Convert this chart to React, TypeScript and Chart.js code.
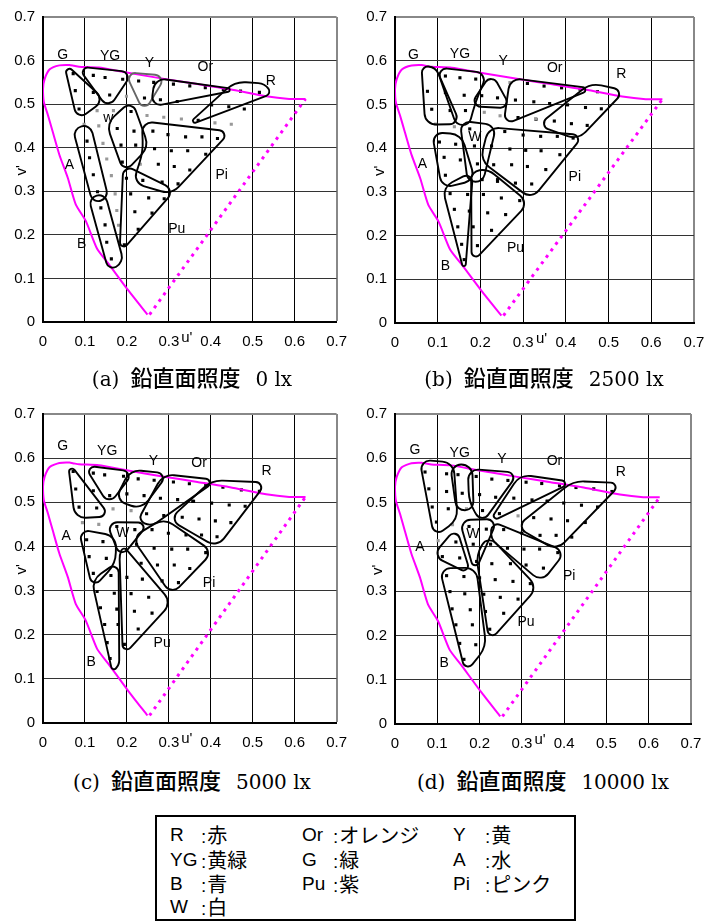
import React, { useEffect, useRef } from 'react';
import { Chart, registerables } from 'chart.js';
Chart.register(...registerables);

type P = [number, number];
type L = [string, number, number];

// ---- spectrum locus (u', v') ----
const LOCUS_U = [0.249, 0.203, 0.156, 0.129, 0.102, 0.078, 0.059, 0.039, 0.023, 0.012, 0.002, 0.0, 0.004, 0.016, 0.039, 0.063, 0.074, 0.086, 0.133, 0.196, 0.289, 0.368, 0.446, 0.532, 0.587, 0.626];
const LOCUS_V = [0.017, 0.073, 0.134, 0.168, 0.232, 0.270, 0.331, 0.384, 0.437, 0.474, 0.505, 0.535, 0.558, 0.580, 0.589, 0.590, 0.588, 0.586, 0.584, 0.573, 0.558, 0.546, 0.534, 0.518, 0.512, 0.512];
const PURPLE_U = [0.254, 0.626];
const PURPLE_V = [0.017, 0.512];

const TICKS = [0, 0.1, 0.2, 0.3, 0.4, 0.5, 0.6, 0.7];

// ---- panel (a) 0 lx ----
const A_OUTLINES: P[][] = [
  [[0.054, 0.588], [0.138, 0.512], [0.083, 0.472]],
  [[0.09, 0.582], [0.205, 0.57], [0.155, 0.498]],
  [[0.203, 0.568], [0.285, 0.561], [0.241, 0.49]],
  [[0.275, 0.556], [0.458, 0.533], [0.266, 0.498]],
  [[0.348, 0.453], [0.46, 0.543], [0.52, 0.543], [0.537, 0.523]],
  [[0.211, 0.5], [0.244, 0.406], [0.194, 0.351], [0.159, 0.451]],
  [[0.241, 0.453], [0.438, 0.434], [0.305, 0.302], [0.222, 0.325], [0.248, 0.39]],
  [[0.195, 0.353], [0.306, 0.3], [0.186, 0.166]],
  [[0.075, 0.436], [0.113, 0.445], [0.152, 0.292], [0.118, 0.282]],
  [[0.113, 0.277], [0.148, 0.286], [0.188, 0.145], [0.156, 0.126]],
];
const A_GRAY_OUTLINE = [2];
const A_DOTS: P[] = [
  [0.072, 0.570], [0.077, 0.531], [0.12, 0.527], [0.086, 0.489],
  [0.12, 0.566], [0.148, 0.561], [0.19, 0.557], [0.159, 0.521],
  [0.228, 0.553], [0.264, 0.55], [0.242, 0.514],
  [0.311, 0.546], [0.35, 0.542], [0.387, 0.538], [0.43, 0.533], [0.28, 0.51], [0.32, 0.506],
  [0.471, 0.53], [0.516, 0.527], [0.402, 0.498], [0.443, 0.494], [0.48, 0.489], [0.37, 0.463],
  [0.21, 0.483], [0.177, 0.444], [0.217, 0.438], [0.186, 0.406], [0.221, 0.406], [0.189, 0.367],
  [0.262, 0.438], [0.298, 0.430], [0.340, 0.425], [0.379, 0.425], [0.416, 0.421],
  [0.266, 0.398], [0.306, 0.393], [0.345, 0.393], [0.388, 0.385],
  [0.275, 0.362], [0.313, 0.357], [0.35, 0.349],
  [0.238, 0.325], [0.284, 0.321], [0.322, 0.317],
  [0.199, 0.330], [0.209, 0.294], [0.252, 0.285], [0.289, 0.283], [0.219, 0.253], [0.26, 0.25], [0.227, 0.213], [0.194, 0.177],
  [0.105, 0.415], [0.111, 0.377], [0.12, 0.338], [0.13, 0.299],
  [0.138, 0.262], [0.148, 0.223], [0.152, 0.183], [0.163, 0.145],
];
const A_GRAY: P[] = [
  [0.199, 0.518], [0.129, 0.485], [0.168, 0.485], [0.248, 0.474], [0.288, 0.47], [0.33, 0.466],
  [0.41, 0.457], [0.449, 0.454], [0.098, 0.454], [0.133, 0.45], [0.143, 0.41], [0.152, 0.374],
  [0.163, 0.336], [0.232, 0.362], [0.172, 0.294], [0.176, 0.256], [0.18, 0.222],
];
const A_LABELS: L[] = [
  ['G', 0.047, 0.612], ['YG', 0.16, 0.61], ['Y', 0.254, 0.595], ['Or', 0.387, 0.585], ['R', 0.543, 0.553],
  ['w', 0.156, 0.469], ['A', 0.063, 0.361], ['Pi', 0.426, 0.338], ['Pu', 0.319, 0.212], ['B', 0.092, 0.178],
];

// ---- panel (b) 2500 lx ----
const B_OUTLINES: P[][] = [
  [[0.066, 0.58], [0.095, 0.576], [0.147, 0.462], [0.074, 0.462]],
  [[0.103, 0.578], [0.21, 0.565], [0.18, 0.51], [0.172, 0.462], [0.146, 0.462]],
  [[0.226, 0.563], [0.264, 0.496], [0.183, 0.5]],
  [[0.277, 0.555], [0.456, 0.535], [0.261, 0.459]],
  [[0.343, 0.455], [0.455, 0.54], [0.53, 0.528], [0.43, 0.428]],
  [[0.156, 0.455], [0.232, 0.445], [0.204, 0.332], [0.173, 0.332]],
  [[0.226, 0.442], [0.433, 0.427], [0.318, 0.292], [0.209, 0.373]],
  [[0.092, 0.429], [0.152, 0.423], [0.181, 0.333], [0.113, 0.317]],
  [[0.116, 0.303], [0.18, 0.338], [0.163, 0.118]],
  [[0.183, 0.339], [0.218, 0.343], [0.304, 0.275], [0.182, 0.146]],
];
const B_DOTS: P[] = [
  [0.118, 0.565], [0.152, 0.561], [0.189, 0.558], [0.076, 0.53], [0.118, 0.527], [0.162, 0.521],
  [0.086, 0.489], [0.129, 0.486], [0.165, 0.486],
  [0.203, 0.52], [0.24, 0.515],
  [0.31, 0.548], [0.349, 0.542], [0.39, 0.538], [0.433, 0.535], [0.282, 0.51], [0.325, 0.506], [0.362, 0.502], [0.288, 0.47], [0.33, 0.466],
  [0.474, 0.529], [0.404, 0.499], [0.446, 0.493], [0.483, 0.49], [0.373, 0.462], [0.413, 0.456], [0.45, 0.452],
  [0.175, 0.444], [0.186, 0.405], [0.193, 0.364],
  [0.257, 0.438], [0.3, 0.43], [0.341, 0.427], [0.38, 0.427], [0.417, 0.423],
  [0.226, 0.405], [0.269, 0.398], [0.306, 0.395], [0.342, 0.394], [0.386, 0.385],
  [0.231, 0.362], [0.273, 0.362], [0.31, 0.358], [0.353, 0.351],
  [0.24, 0.328], [0.282, 0.32], [0.32, 0.318],
  [0.104, 0.414], [0.142, 0.409], [0.115, 0.379], [0.153, 0.373], [0.118, 0.338],
  [0.129, 0.296], [0.17, 0.294], [0.139, 0.26], [0.174, 0.256], [0.147, 0.22], [0.183, 0.22], [0.156, 0.18], [0.162, 0.145],
  [0.204, 0.328], [0.24, 0.324], [0.207, 0.294], [0.249, 0.286], [0.292, 0.28], [0.217, 0.252], [0.259, 0.248], [0.226, 0.212], [0.193, 0.177],
];
const B_GRAY: P[] = [[0.269, 0.55], [0.209, 0.482], [0.246, 0.474], [0.329, 0.467], [0.095, 0.455], [0.139, 0.449]];
const B_LABELS: L[] = [
  ['G', 0.043, 0.612], ['YG', 0.152, 0.614], ['Y', 0.253, 0.598], ['Or', 0.374, 0.584], ['R', 0.53, 0.57],
  ['W', 0.187, 0.426], ['A', 0.064, 0.364], ['Pi', 0.421, 0.334], ['Pu', 0.282, 0.171], ['B', 0.118, 0.129],
];

// ---- panel (c) 5000 lx ----
const C_OUTLINES: P[][] = [
  [[0.063, 0.585], [0.153, 0.473], [0.08, 0.472]],
  [[0.106, 0.579], [0.208, 0.566], [0.157, 0.503]],
  [[0.212, 0.566], [0.29, 0.561], [0.234, 0.493], [0.18, 0.509]],
  [[0.288, 0.555], [0.406, 0.547], [0.263, 0.453], [0.234, 0.464]],
  [[0.31, 0.463], [0.404, 0.541], [0.525, 0.541], [0.415, 0.407]],
  [[0.159, 0.45], [0.245, 0.45], [0.187, 0.382]],
  [[0.221, 0.417], [0.29, 0.455], [0.396, 0.388], [0.306, 0.299]],
  [[0.091, 0.432], [0.168, 0.417], [0.165, 0.366], [0.12, 0.313]],
  [[0.179, 0.357], [0.12, 0.316], [0.165, 0.125], [0.18, 0.14]],
  [[0.194, 0.392], [0.298, 0.275], [0.192, 0.161], [0.186, 0.373]],
];
const C_DOTS: P[] = [
  [0.072, 0.57], [0.078, 0.53], [0.12, 0.526], [0.086, 0.489], [0.128, 0.487],
  [0.12, 0.566], [0.147, 0.562], [0.192, 0.559], [0.159, 0.515],
  [0.227, 0.553], [0.265, 0.55], [0.2, 0.519], [0.241, 0.515],
  [0.311, 0.546], [0.349, 0.542], [0.388, 0.538], [0.28, 0.509], [0.321, 0.506], [0.357, 0.502], [0.247, 0.474], [0.288, 0.47],
  [0.429, 0.534], [0.473, 0.528], [0.516, 0.525], [0.359, 0.502], [0.402, 0.498], [0.444, 0.494], [0.482, 0.491],
  [0.332, 0.466], [0.372, 0.462], [0.411, 0.458], [0.448, 0.454], [0.378, 0.426], [0.415, 0.422],
  [0.176, 0.445], [0.219, 0.438],
  [0.26, 0.438], [0.299, 0.43], [0.341, 0.426], [0.223, 0.405], [0.265, 0.396], [0.307, 0.394], [0.345, 0.394], [0.388, 0.386],
  [0.234, 0.362], [0.273, 0.358], [0.313, 0.358], [0.35, 0.35], [0.284, 0.322], [0.323, 0.318],
  [0.104, 0.415], [0.143, 0.411], [0.11, 0.377], [0.151, 0.373], [0.12, 0.339],
  [0.162, 0.334], [0.129, 0.298], [0.17, 0.294], [0.137, 0.261], [0.176, 0.258], [0.147, 0.223], [0.179, 0.223], [0.153, 0.182], [0.16, 0.146],
  [0.2, 0.33], [0.237, 0.326], [0.21, 0.293], [0.252, 0.285], [0.218, 0.253], [0.26, 0.249], [0.227, 0.213], [0.194, 0.178],
];
const C_GRAY: P[] = [[0.167, 0.485], [0.21, 0.481], [0.094, 0.454], [0.133, 0.45]];
const C_LABELS: L[] = [
  ['G', 0.047, 0.627], ['YG', 0.153, 0.615], ['Y', 0.263, 0.593], ['Or', 0.372, 0.589], ['R', 0.533, 0.57],
  ['W', 0.19, 0.43], ['A', 0.055, 0.424], ['Pi', 0.396, 0.316], ['Pu', 0.284, 0.182], ['B', 0.115, 0.139],
];

// ---- panel (d) 10000 lx ----
const D_OUTLINES: P[][] = [
  [[0.063, 0.589], [0.135, 0.582], [0.143, 0.469], [0.094, 0.431]],
  [[0.135, 0.578], [0.179, 0.578], [0.182, 0.491], [0.148, 0.491]],
  [[0.178, 0.569], [0.284, 0.563], [0.206, 0.461], [0.183, 0.506]],
  [[0.299, 0.555], [0.412, 0.544], [0.228, 0.459]],
  [[0.295, 0.448], [0.42, 0.54], [0.528, 0.54], [0.385, 0.401]],
  [[0.159, 0.454], [0.236, 0.457], [0.189, 0.35]],
  [[0.237, 0.451], [0.394, 0.39], [0.342, 0.328], [0.234, 0.416]],
  [[0.144, 0.435], [0.098, 0.381], [0.174, 0.344]],
  [[0.11, 0.344], [0.19, 0.344], [0.211, 0.182], [0.167, 0.124]],
  [[0.222, 0.418], [0.328, 0.31], [0.224, 0.195], [0.198, 0.375]],
];
const D_DOTS: P[] = [
  [0.071, 0.569], [0.122, 0.565], [0.08, 0.531], [0.122, 0.525], [0.088, 0.49], [0.126, 0.486], [0.098, 0.456],
  [0.149, 0.563], [0.159, 0.521],
  [0.192, 0.559], [0.229, 0.553], [0.267, 0.55], [0.2, 0.518], [0.238, 0.512], [0.207, 0.482], [0.247, 0.475],
  [0.31, 0.546], [0.347, 0.543], [0.389, 0.538], [0.281, 0.51], [0.324, 0.506], [0.36, 0.503],
  [0.428, 0.534], [0.47, 0.531], [0.513, 0.525], [0.36, 0.503], [0.399, 0.499], [0.441, 0.494], [0.479, 0.49],
  [0.328, 0.466], [0.369, 0.463], [0.408, 0.459], [0.45, 0.455], [0.343, 0.426], [0.381, 0.426], [0.418, 0.422],
  [0.175, 0.446], [0.216, 0.44], [0.185, 0.406], [0.193, 0.367],
  [0.257, 0.439], [0.3, 0.431], [0.266, 0.397], [0.305, 0.395], [0.342, 0.395], [0.385, 0.387], [0.31, 0.359], [0.351, 0.352],
  [0.144, 0.411], [0.112, 0.378], [0.153, 0.375],
  [0.122, 0.335], [0.163, 0.333], [0.13, 0.299], [0.165, 0.294], [0.135, 0.26], [0.178, 0.258], [0.144, 0.224], [0.183, 0.224], [0.153, 0.182], [0.191, 0.179], [0.163, 0.146],
  [0.226, 0.406], [0.229, 0.362], [0.273, 0.362], [0.2, 0.33], [0.237, 0.326], [0.279, 0.322], [0.32, 0.317],
  [0.21, 0.293], [0.249, 0.286], [0.291, 0.282], [0.214, 0.254], [0.257, 0.25], [0.224, 0.214],
];
const D_GRAY: P[] = [[0.169, 0.486], [0.136, 0.45], [0.102, 0.414], [0.291, 0.47]];
const D_LABELS: L[] = [
  ['G', 0.047, 0.618], ['YG', 0.153, 0.611], ['Y', 0.253, 0.599], ['Or', 0.377, 0.593], ['R', 0.534, 0.569],
  ['W', 0.184, 0.429], ['A', 0.059, 0.399], ['Pi', 0.412, 0.335], ['Pu', 0.31, 0.23], ['B', 0.116, 0.137],
];

// ---- captions & legend ----
const CAPTION_TAGS = ['(a)', '(b)', '(c)', '(d)'];
const CAPTION_MAIN = '鉛直面照度';
const CAPTION_LUX = ['0 lx', '2500 lx', '5000 lx', '10000 lx'];
const LEGEND_CODES = ['R', 'Or', 'Y', 'YG', 'G', 'A', 'B', 'Pu', 'Pi', 'W'];
const LEGEND_NAMES = ['赤', 'オレンジ', '黄', '黄緑', '緑', '水', '青', '紫', 'ピンク', '白'];

// ---- layout (styles) ----
const PANELS = [
  { x: 0, y: 0, w: 358, h: 352, left: 43, right: 16, top: 14, bottom: 30, vOff: 21, outlines: A_OUTLINES, gray: A_GRAY_OUTLINE, dots: A_DOTS, grayDots: A_GRAY, labels: A_LABELS },
  { x: 358, y: 0, w: 359, h: 352, left: 37, right: 23, top: 14, bottom: 29, vOff: 15, outlines: B_OUTLINES, gray: [], dots: B_DOTS, grayDots: B_GRAY, labels: B_LABELS },
  { x: 0, y: 385, w: 358, h: 367, left: 43, right: 17, top: 29, bottom: 29, vOff: 21, outlines: C_OUTLINES, gray: [], dots: C_DOTS, grayDots: C_GRAY, labels: C_LABELS },
  { x: 358, y: 385, w: 359, h: 367, left: 37, right: 26, top: 29, bottom: 28, vOff: 17, outlines: D_OUTLINES, gray: [], dots: D_DOTS, grayDots: D_GRAY, labels: D_LABELS },
];
const CAPTION_POS = [[192, 376], [544, 376], [192, 779], [543, 779]];
const SANS = '"Liberation Sans", Arial, sans-serif';
const INFLATE = 4;

function toXY(pts: P[]) {
  return pts.map(([u, v]) => ({ x: u, y: v }));
}

function roundedPoly(ctx: CanvasRenderingContext2D, pts: number[][], D: number) {
  const n = pts.length;
  ctx.beginPath();
  const s = [(pts[n - 1][0] + pts[0][0]) / 2, (pts[n - 1][1] + pts[0][1]) / 2];
  ctx.moveTo(s[0], s[1]);
  for (let i = 0; i < n; i++) {
    const c = pts[i], nx = pts[(i + 1) % n], pv = pts[(i - 1 + n) % n];
    const ax = pv[0] - c[0], ay = pv[1] - c[1], bx = nx[0] - c[0], by = nx[1] - c[1];
    const l1 = Math.hypot(ax, ay), l2 = Math.hypot(bx, by);
    const cos = (ax * bx + ay * by) / (l1 * l2);
    const th = Math.acos(Math.max(-1, Math.min(1, cos)));
    const d = Math.min(D, l1 / 2, l2 / 2);
    const r = d * Math.tan(th / 2);
    ctx.arcTo(c[0], c[1], nx[0], nx[1], Math.max(r, 0.1));
  }
  ctx.closePath();
}

function makeOverlay(outlines: P[][], grayIdx: number[], labels: L[], vOff: number) {
  return {
    id: 'overlay',
    afterDatasetsDraw(chart: any) {
      const { ctx, chartArea: a, scales } = chart;
      const xs = scales.x, ys = scales.y;
      ctx.save();
      ctx.lineJoin = 'round';
      outlines.forEach((o, i) => {
        const px = o.map(([u, v]) => [xs.getPixelForValue(u), ys.getPixelForValue(v)]);
        const cx = px.reduce((s, q) => s + q[0], 0) / px.length;
        const cy = px.reduce((s, q) => s + q[1], 0) / px.length;
        const inflated = px.map(([x, y]) => {
          const dx = x - cx, dy = y - cy, l = Math.hypot(dx, dy) || 1;
          return [x + (dx / l) * INFLATE, y + (dy / l) * INFLATE];
        });
        roundedPoly(ctx, inflated, 11);
        ctx.strokeStyle = grayIdx.includes(i) ? '#666' : '#000';
        ctx.lineWidth = 1.9;
        ctx.stroke();
      });
      ctx.fillStyle = '#000';
      ctx.font = '14px ' + SANS;
      ctx.textAlign = 'center';
      ctx.textBaseline = 'middle';
      labels.forEach(([t, u, v]) => ctx.fillText(t, xs.getPixelForValue(u), ys.getPixelForValue(v)));
      ctx.font = '15px ' + SANS;
      ctx.fillText("u'", (a.left + a.right) / 2 - 3, a.bottom + 16);
      ctx.translate(a.left - vOff, a.top + 0.503 * (a.bottom - a.top));
      ctx.rotate(-Math.PI / 2);
      ctx.fillText("v'", 0, 0);
      ctx.restore();
    },
  };
}

const isMax = (c: any) => c && c.tick && Math.abs(c.tick.value - 0.7) < 1e-6;
const fmt = (v: any) => (Number(v) === 0 ? '0' : Number(v).toFixed(1));

function Panel({ p }: { p: any }) {
  const ref = useRef<HTMLCanvasElement | null>(null);
  useEffect(() => {
    if (!ref.current) return;
    const chart = new Chart(ref.current, {
      type: 'scatter',
      data: {
        datasets: [
          {
            data: LOCUS_U.map((u, i) => ({ x: u, y: LOCUS_V[i] })),
            showLine: true, borderColor: '#ff00ff', borderWidth: 2, pointRadius: 0, tension: 0.2,
          },
          {
            data: PURPLE_U.map((u, i) => ({ x: u, y: PURPLE_V[i] })),
            showLine: true, borderColor: '#ff00ff', borderWidth: 3, borderDash: [3, 5], pointRadius: 0,
          },
          {
            data: toXY(p.grayDots),
            pointStyle: 'rect', pointRadius: 2.2, backgroundColor: '#999', borderWidth: 0,
          },
          {
            data: toXY(p.dots),
            pointStyle: 'rect', pointRadius: 2.2, backgroundColor: '#000', borderWidth: 0,
          },
        ] as any,
      },
      options: {
        animation: false,
        responsive: false,
        devicePixelRatio: 1,
        events: [],
        layout: { padding: { left: 0, right: p.right, top: p.top, bottom: 0 } },
        plugins: { legend: { display: false }, tooltip: { enabled: false } },
        scales: {
          x: {
            type: 'linear', min: 0, max: 0.7,
            afterFit: (s: any) => { s.height = p.bottom; },
            afterBuildTicks: (s: any) => { s.ticks = TICKS.map((v) => ({ value: v })); },
            ticks: { stepSize: 0.1, autoSkip: false, maxRotation: 0, padding: 11, color: '#000', font: { family: SANS, size: 15 }, callback: fmt },
            grid: { drawTicks: false, color: (c: any) => (isMax(c) ? '#888' : '#000'), lineWidth: (c: any) => (isMax(c) ? 2 : 1) },
            border: { color: '#000', width: 2 },
          },
          y: {
            type: 'linear', min: 0, max: 0.7,
            afterFit: (s: any) => { s.width = p.left; },
            afterBuildTicks: (s: any) => { s.ticks = TICKS.map((v) => ({ value: v })); },
            ticks: { stepSize: 0.1, autoSkip: false, padding: 8, color: '#000', font: { family: SANS, size: 15 }, callback: fmt },
            grid: { drawTicks: false, color: (c: any) => (isMax(c) ? '#888' : '#333'), lineWidth: (c: any) => (isMax(c) ? 2 : 1) },
            border: { color: '#000', width: 2 },
          },
        },
      } as any,
      plugins: [makeOverlay(p.outlines, p.gray, p.labels, p.vOff)],
    });
    return () => chart.destroy();
  }, []);
  return (
    <canvas
      ref={ref}
      width={p.w}
      height={p.h}
      style={{ position: 'absolute', left: p.x, top: p.y, width: p.w, height: p.h }}
    />
  );
}

export default function App() {
  return (
    <div style={{ position: 'absolute', left: 0, top: 0, width: 717, height: 923, background: '#fff', overflow: 'hidden' }}>
      {PANELS.map((p, i) => <Panel key={i} p={p} />)}
      {CAPTION_TAGS.map((t, i) => (
        <div key={'c' + i} style={{
          position: 'absolute', left: CAPTION_POS[i][0] - 200, top: CAPTION_POS[i][1] - 14, width: 400, height: 28,
          lineHeight: '28px', textAlign: 'center', whiteSpace: 'nowrap', color: '#000',
        }}>
          <span style={{ fontFamily: '"DejaVu Serif", serif', fontSize: 20 }}>{t}</span>
          <span style={{ fontFamily: '"Noto Sans CJK JP", sans-serif', fontSize: 22, fontWeight: 500, marginLeft: 11 }}>{CAPTION_MAIN}</span>
          <span style={{ fontFamily: '"DejaVu Serif", serif', fontSize: 20, marginLeft: 15 }}>{CAPTION_LUX[i]}</span>
        </div>
      ))}
      <div style={{ position: 'absolute', left: 155, top: 815, width: 421, height: 106, border: '2px solid #000', boxSizing: 'border-box' }} />
      {LEGEND_CODES.map((c, i) => {
        const col = i % 3, row = Math.floor(i / 3);
        const cx = [170, 302, 453][col];
        const kx = [201, 333, 485][col];
        const cy = [835, 860, 884, 907][row];
        return (
          <React.Fragment key={'l' + i}>
            <div style={{ position: 'absolute', left: cx, top: cy - 12, lineHeight: '24px', fontFamily: SANS, fontSize: 19, color: '#000', whiteSpace: 'nowrap' }}>{c}</div>
            <div style={{ position: 'absolute', left: kx, top: cy - 12, lineHeight: '24px', fontSize: 19, color: '#000', whiteSpace: 'nowrap' }}>
              <span style={{ fontFamily: SANS }}>:</span>
              <span style={{ fontFamily: '"Noto Sans CJK JP", sans-serif', fontSize: 20, marginLeft: 1 }}>{LEGEND_NAMES[i]}</span>
            </div>
          </React.Fragment>
        );
      })}
    </div>
  );
}
